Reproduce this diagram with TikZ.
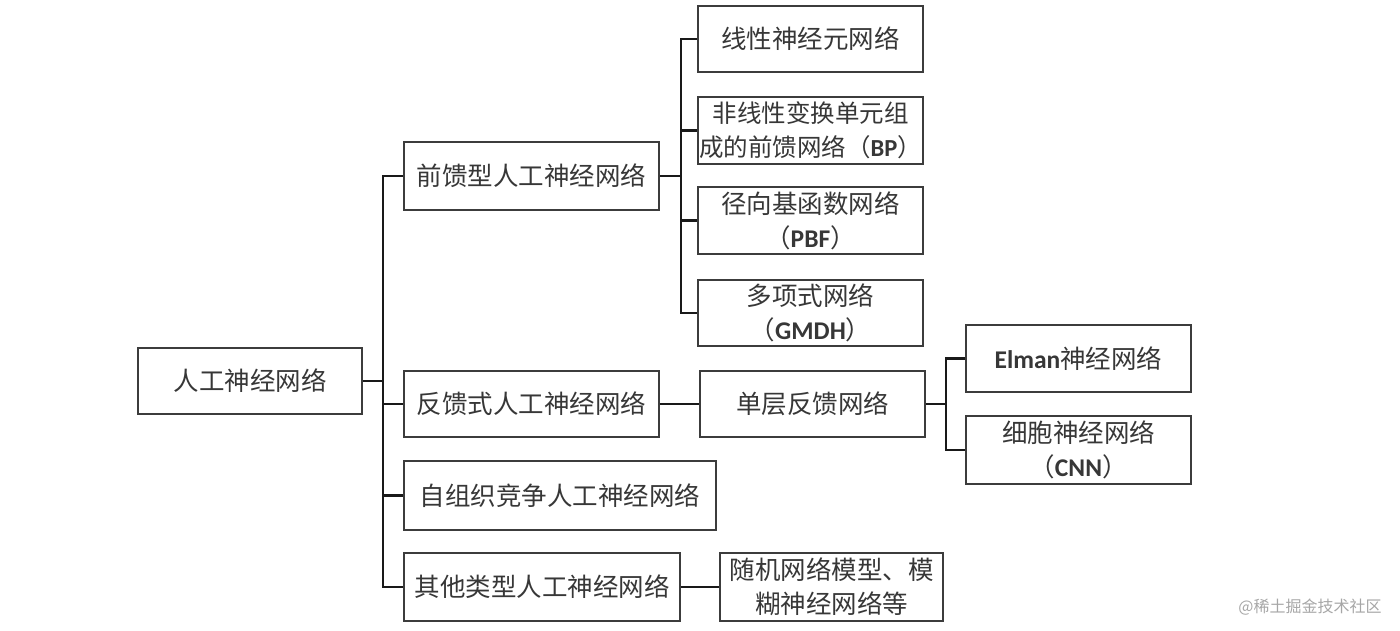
\documentclass[tikz,border=0pt]{standalone}
\usepackage{fontspec}
\setmainfont{Noto Sans CJK SC}
\newfontfamily\latinbold{Carlito}
\usepackage{tikz}
\usetikzlibrary{positioning}
\definecolor{boxline}{RGB}{60,60,60}
\definecolor{boxtext}{RGB}{55,55,55}
\newcommand{\lat}[1]{{\latinbold\bfseries #1}}

\begin{document}
\begin{tikzpicture}[
    x=1pt, y=-1pt,
    box/.style={draw=boxline, line width=2pt, minimum width=225pt,
                minimum height=66pt, align=center, inner sep=1pt,
                text=boxtext, font=\fontsize{25.5}{34}\selectfont},
    conn/.style={line width=2.8pt, black!90}
  ]
    \useasboundingbox (0,0) rectangle (1400,631);
    % root and first level
    \node[box, minimum width=224pt] (root) at (250,381) {人工神经网络};
    \node[box, minimum width=255pt, minimum height=68pt] (ff) at (531.5,176)
      {前馈型人工神经网络};
    \node[box, minimum width=255pt] (fb) at (531.5,404)
      {反馈式人工神经网络};
    \node[box, minimum width=312pt, minimum height=69pt] (so) at (560,495.5)
      {自组织竞争人工神经网络};
    \node[box, minimum width=276pt, minimum height=68pt] (ot) at (542,587)
      {其他类型人工神经网络};
    % feedforward branch
    \node[box] (lin) at (810.5,39) {线性神经元网络};
    \node[box, minimum height=67pt, inner sep=0pt,
          font=\fontsize{24.5}{34}\selectfont] (bp) at (810.5,130.5)
      {非线性变换单元组\\成的前馈网络（\lat{BP}）};
    \node[box, minimum height=67pt] (rbf) at (810.5,220.5)
      {径向基函数网络\\（\lat{PBF}）};
    \node[box] (poly) at (810.5,313) {多项式网络\\（\lat{GMDH}）};
    % feedback branch
    \node[box] (slf) at (812.5,404) {单层反馈网络};
    \node[box, minimum height=67pt] (elm) at (1078.5,358.5)
      {\lat{Elman}神经网络};
    \node[box, minimum height=68pt] (cnn) at (1078.5,450)
      {细胞神经网络\\（\lat{CNN}）};
    % other types
    \node[box, minimum width=223pt, minimum height=68pt] (rnd) at (831.5,587)
      {随机网络模型、模\\糊神经网络等};
    \node[text=black!35, font=\fontsize{16}{18}\selectfont] (mark) at (1310,607)
      {@稀土掘金技术社区};
    % connectors
    \foreach \c in {ff,fb,so,ot}
      \draw[conn] (root.east) -- ++(20,0) |- (\c.west);
    \foreach \c in {lin,bp,rbf,poly}
      \draw[conn] (ff.east) -- ++(21,0) |- (\c.west);
    \foreach \c in {elm,cnn}
      \draw[conn] (slf.east) -- ++(20,0) |- (\c.west);
    \draw[conn] (fb) -- (slf);
    \draw[conn] (ot) -- (rnd);
\end{tikzpicture}
\end{document}
